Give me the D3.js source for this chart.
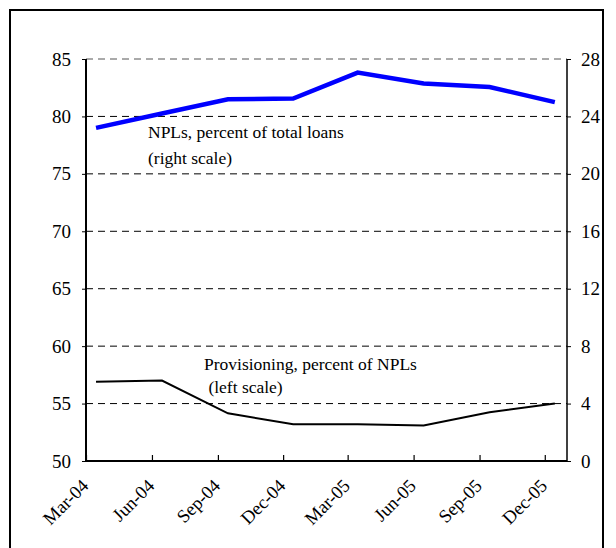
<!DOCTYPE html>
<html>
<head>
<meta charset="utf-8">
<script src="https://cdn.jsdelivr.net/npm/d3@7/dist/d3.min.js"></script>
<style>
  html, body { margin: 0; padding: 0; background: #fff; }
  svg { display: block; }
  svg text { font-family: "Liberation Serif", "Times New Roman", "DejaVu Serif", serif !important; fill: #000; }
</style>
</head>
<body>
<div id="chart"></div>
<script>
// ---- data ----
const dates = ["2004-03-15", "2004-06-15", "2004-09-15", "2004-12-15",
               "2005-03-15", "2005-06-15", "2005-09-15", "2005-12-15"];
const provisioning = [56.9, 57.0, 54.15, 53.2, 53.2, 53.1, 54.25, 55.0];   // left scale
const npls = [23.2, 24.2, 25.2, 25.25, 27.05, 26.3, 26.05, 25.0];          // right scale
const xTickDates = ["2004-03-01", "2004-06-01", "2004-09-01", "2004-12-01",
                    "2005-03-01", "2005-06-01", "2005-09-01", "2005-12-01"];
const xTickLabels = ["Mar-04", "Jun-04", "Sep-04", "Dec-04", "Mar-05", "Jun-05", "Sep-05", "Dec-05"];
const leftTicks = [50, 55, 60, 65, 70, 75, 80, 85];
const rightTicks = [0, 4, 8, 12, 16, 20, 24, 28];
const labelNPL = ["NPLs, percent of total loans", "(right scale)"];
const labelProv = ["Provisioning, percent of NPLs", " (left scale)"];

const W = 616, H = 548;
const plot = { left: 86, right: 567, top: 59, bottom: 461 };
const parse = d3.utcParse("%Y-%m-%d");
const FONT = "'Liberation Serif', 'Times New Roman', serif";

const svg = d3.select("#chart").append("svg")
  .attr("width", W).attr("height", H);

// outer frame (extends below the visible area)
svg.append("rect")
  .attr("x", 10).attr("y", 10).attr("width", 593).attr("height", 560)
  .attr("fill", "none").attr("stroke", "#000").attr("stroke-width", 2);

const x = d3.scaleUtc()
  .domain([parse("2004-03-01"), parse("2006-01-01")])
  .range([plot.left, plot.right]);
const yL = d3.scaleLinear().domain([50, 85]).range([plot.bottom, plot.top]);
const yR = d3.scaleLinear().domain([0, 28]).range([plot.bottom, plot.top]);

// gridlines
svg.append("g")
  .selectAll("line")
  .data(leftTicks.filter(d => d > 50))
  .join("line")
  .attr("x1", plot.left).attr("x2", plot.right)
  .attr("y1", d => yL(d)).attr("y2", d => yL(d))
  .attr("stroke", d => d === 85 ? "#555" : "#000")
  .attr("stroke-width", 1)
  .attr("stroke-dasharray", "7,5");

// left axis
const gL = svg.append("g").attr("transform", `translate(${plot.left},0)`)
  .call(d3.axisLeft(yL).tickValues(leftTicks).tickSize(4).tickPadding(11).tickFormat(d3.format("d")));
gL.attr("font-family", FONT).attr("font-size", 19);
gL.select(".domain").attr("stroke-width", 2).attr("d", `M0,${plot.top}V${plot.bottom + 1}`);
gL.selectAll(".tick line").attr("stroke-width", 1);
gL.selectAll("text").attr("fill", "#000");

// right axis
const gR = svg.append("g").attr("transform", `translate(${plot.right},0)`)
  .call(d3.axisRight(yR).tickValues(rightTicks).tickSize(4).tickPadding(10).tickFormat(d3.format("d")));
gR.attr("font-family", FONT).attr("font-size", 19);
gR.select(".domain").attr("stroke-width", 1.5).attr("d", `M0,${plot.top}V${plot.bottom + 1}`);
gR.selectAll(".tick line").attr("stroke-width", 1);
gR.selectAll("text").attr("fill", "#000");

// bottom axis
const gB = svg.append("g").attr("transform", `translate(0,${plot.bottom})`)
  .call(d3.axisBottom(x).tickValues(xTickDates.map(parse)).tickSize(-6)
    .tickFormat((d, i) => xTickLabels[i]));
gB.attr("font-family", FONT).attr("font-size", 18.5);
gB.select(".domain").attr("stroke-width", 2).attr("d", `M${plot.left - 1},0H${plot.right}`);
gB.selectAll(".tick line").attr("stroke-width", 1.2);
gB.selectAll("text")
  .attr("fill", "#000")
  .attr("text-anchor", "end")
  .attr("dy", null).attr("y", 0)
  .attr("transform", "translate(3,26) rotate(-45)");

// lines
const lineL = d3.line().x((d, i) => x(parse(dates[i]))).y(d => yL(d));
const lineR = d3.line().x((d, i) => x(parse(dates[i]))).y(d => yR(d));

svg.append("path").datum(provisioning)
  .attr("d", lineL).attr("fill", "none").attr("stroke", "#000").attr("stroke-width", 2);
svg.append("path").datum(npls)
  .attr("d", lineR).attr("fill", "none").attr("stroke", "#0000ff").attr("stroke-width", 4.5);

// annotations
const ann = svg.append("g").attr("font-family", FONT).attr("font-size", 17.5);
ann.append("text").attr("x", 148).attr("y", 138).text(labelNPL[0]);
ann.append("text").attr("x", 148).attr("y", 164).text(labelNPL[1]);
ann.append("text").attr("x", 204).attr("y", 370).text(labelProv[0]);
ann.append("text").attr("x", 204).attr("y", 393).style("white-space", "pre").text(labelProv[1]);
</script>
</body>
</html>
